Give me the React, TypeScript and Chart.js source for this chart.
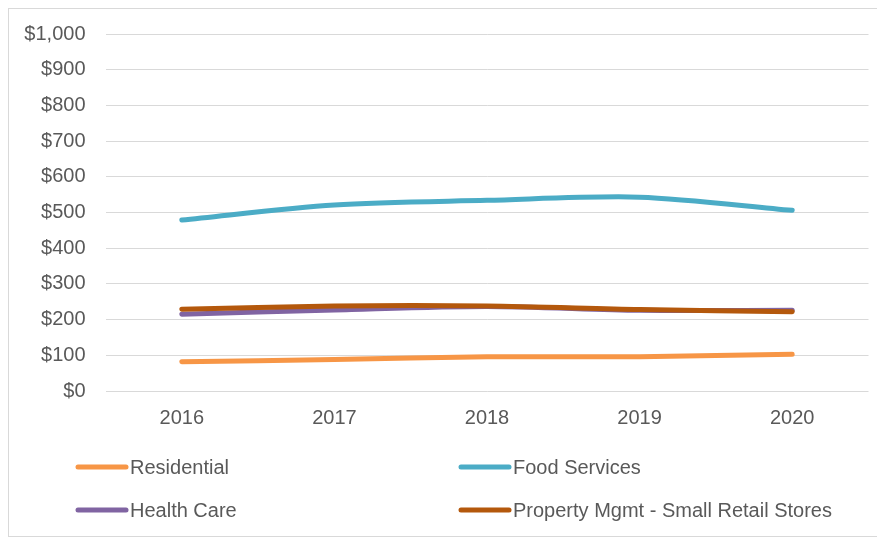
import React, { useEffect, useRef } from "react";
import { Chart, registerables } from "chart.js";

Chart.register(...registerables);

const categories = ["2016", "2017", "2018", "2019", "2020"];
const residential = [82, 88, 96, 96, 103];
const foodServices = [479, 521, 534, 543, 506];
const healthCare = [215, 227, 237, 226, 226];
const propertyMgmt = [229, 238, 238, 228, 222];
const seriesNames = ["Residential", "Food Services", "Health Care", "Property Mgmt - Small Retail Stores"];
const seriesColors = ["#F79646", "#4BACC6", "#8064A2", "#B4580C"];

const FONT = "'Liberation Sans', Arial, sans-serif";
const TEXT = "#595959";

const legendPlugin = {
  id: "gridLegend",
  afterDraw(chart: any) {
    const ctx = chart.ctx;
    const items = chart.data.datasets.map((d: any) => ({ label: d.label, color: d.borderColor }));
    const cols = [67, 450];
    const rows = [458, 501];
    ctx.save();
    ctx.font = `20px ${FONT}`;
    ctx.textBaseline = "middle";
    ctx.textAlign = "left";
    items.forEach((it: any, i: number) => {
      const x = cols[i % 2];
      const y = rows[Math.floor(i / 2)];
      ctx.strokeStyle = it.color;
      ctx.lineWidth = 5;
      ctx.lineCap = "round";
      ctx.beginPath();
      ctx.moveTo(x + 2, y);
      ctx.lineTo(x + 50, y);
      ctx.stroke();
      ctx.fillStyle = TEXT;
      ctx.fillText(it.label, x + 54, y + 1);
    });
    ctx.restore();
  },
};

export default function App() {
  const ref = useRef<HTMLCanvasElement>(null);
  useEffect(() => {
    if (!ref.current) return;
    const values = [residential, foodServices, healthCare, propertyMgmt];
    const orders = [4, 3, 2, 1];
    const chart = new Chart(ref.current, {
      type: "line",
      data: {
        labels: categories,
        datasets: values.map((v, i) => ({
          label: seriesNames[i],
          data: v,
          borderColor: seriesColors[i],
          backgroundColor: seriesColors[i],
          borderWidth: 5,
          borderCapStyle: "round",
          borderJoinStyle: "round",
          pointRadius: 0,
          tension: 0.3,
          fill: false,
          order: orders[i],
        })),
      },
      options: {
        responsive: false,
        animation: false,
        devicePixelRatio: 1,
        layout: { padding: { top: 25, right: 11.5, bottom: 95, left: 0 } },
        plugins: {
          legend: { display: false },
          tooltip: { enabled: false },
        },
        scales: {
          x: {
            offset: true,
            grid: { display: false, drawTicks: false },
            border: { display: false },
            ticks: { color: TEXT, font: { family: FONT, size: 20 }, padding: 15 },
            afterFit: (s: any) => { s.height = 50; },
          },
          y: {
            min: 0,
            max: 1000,
            ticks: {
              stepSize: 100,
              color: TEXT,
              font: { family: FONT, size: 20 },
              padding: 8,
              callback: (v: any) => "$" + Number(v).toLocaleString("en-US"),
            },
            grid: { color: "#d9d9d9", lineWidth: 1, drawTicks: true, tickLength: 12, tickColor: "rgba(0,0,0,0)" },
            border: { display: false },
            afterFit: (s: any) => { s.width = 96.5; },
          },
        },
      },
      plugins: [legendPlugin],
    });
    return () => chart.destroy();
  }, []);
  return (
    <div style={{ width: 873, height: 529, border: "1px solid #d9d9d9", boxSizing: "border-box", background: "#fff" }}>
      <canvas ref={ref} width={871} height={527} style={{ display: "block", width: 871, height: 527 }} />
    </div>
  );
}
